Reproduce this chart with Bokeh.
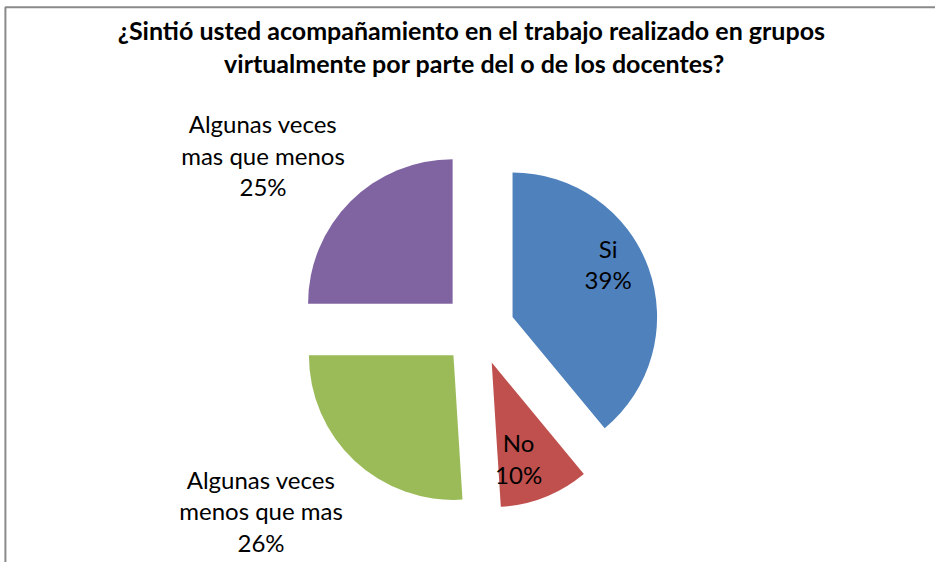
import math
from bokeh.plotting import figure
from bokeh.models import Range1d, ColumnDataSource
from bokeh.core.properties import value
from bokeh.embed import file_html
from bokeh.resources import INLINE

# ---- data ----
categories = ["Si", "No", "Algunas veces\nmenos que mas", "Algunas veces\nmas que menos"]
percentages = [39, 10, 26, 25]
colors = ["#4F81BD", "#C0504D", "#9BBB59", "#8064A2"]
title_lines = ["¿Sintió usted acompañamiento en el trabajo realizado en  grupos",
               "virtualmente por parte del o de los docentes?"]

# ---- layout (reference-pixel coordinates, y measured upward) ----
REF_W, REF_H = 951, 578
W, H = 935, 562
CX, CY = 486, REF_H - 338
R = 147
EXPLODE = 37
label_pos = [(618, REF_H - 271), (527, REF_H - 471), (265, REF_H - 525), (267, REF_H - 159)]
title_y = [REF_H - 30, REF_H - 64]
FONT = "Lato"

p = figure(width=W, height=H, output_backend="svg", toolbar_location=None,
           x_range=Range1d(0, REF_W), y_range=Range1d(0, REF_H),
           min_border=0)
p.axis.visible = False
p.grid.visible = False
p.outline_line_color = None
p.background_fill_color = "white"

total = sum(percentages)
xs, ys, starts, ends = [], [], [], []
cum = 0.0
for v in percentages:
    a0 = math.pi / 2 - 2 * math.pi * cum / total
    a1 = math.pi / 2 - 2 * math.pi * (cum + v) / total
    mid = (a0 + a1) / 2
    xs.append(CX + EXPLODE * math.cos(mid))
    ys.append(CY + EXPLODE * math.sin(mid))
    starts.append(a1)
    ends.append(a0)
    cum += v

src = ColumnDataSource(dict(x=xs, y=ys, start=starts, end=ends, color=colors))
p.wedge(x="x", y="y", radius=R, start_angle="start", end_angle="end",
        fill_color="color", line_color=None, source=src)

labels = [f"{c}\n{v}%" for c, v in zip(categories, percentages)]
p.text(x=[lp[0] for lp in label_pos], y=[lp[1] for lp in label_pos], text=labels,
       text_font=value(FONT), text_font_size="24px", text_color="black",
       text_align="center", text_baseline="middle", text_line_height=1.08)

p.text(x=[482, 482], y=title_y, text=title_lines,
       text_font=value(FONT), text_font_size="25px", text_font_style="bold",
       text_color="black", text_align="center", text_baseline="middle")

# chart frame (left and top edges)
p.line(x=[5, 5, REF_W], y=[0, REF_H - 7, REF_H - 7], line_color="#8a8a8a", line_width=2)

open("out.html", "w").write(file_html(p, INLINE))
